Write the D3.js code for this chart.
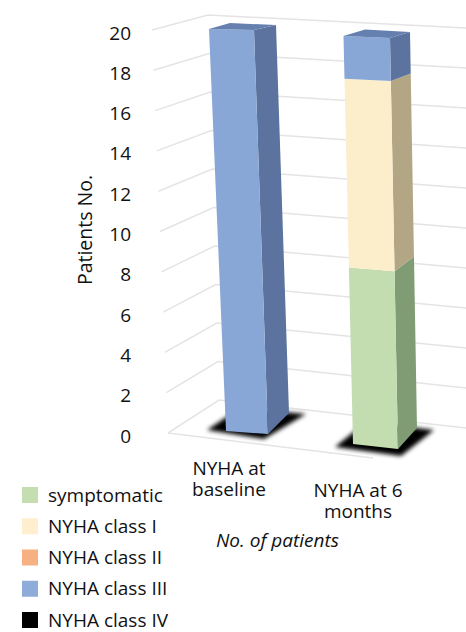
<!DOCTYPE html>
<html>
<head>
<meta charset="utf-8">
<script src="https://cdn.jsdelivr.net/npm/d3@7"></script>
<style>
  html, body { margin: 0; padding: 0; background: #fff; }
  text { font-family: "Open Sans", sans-serif; fill: #111; }
</style>
</head>
<body>
<script>
// values
const categories = ["NYHA at baseline", "NYHA at 6 months"]
const symptomatic = [0, 9]
const classI = [0, 9]
const classII = [0, 0]
const classIII = [20, 2]
const classIV = [0, 0]
const seriesNames = ["symptomatic", "NYHA class I", "NYHA class II", "NYHA class III", "NYHA class IV"]
const tickValues = [0, 2, 4, 6, 8, 10, 12, 14, 16, 18, 20]

const width = 466, height = 632
const colors = {
    "symptomatic": {front: "#c3dcb0", side: "#809c74", top: "#809c74", key: "#c4deb2"},
    "NYHA class I": {front: "#fdeecb", side: "#b2a685", top: "#b2a685", key: "#ffefcf"},
    "NYHA class II": {front: "#f6b082", side: "#a87a5a", top: "#a87a5a", key: "#f6b082"},
    "NYHA class III": {front: "#88a6d6", side: "#5b739e", top: "#6580ae", key: "#8fabd9"},
    "NYHA class IV": {front: "#000", side: "#000", top: "#000", key: "#000"}
}

const svg = d3.select("body").append("svg")
    .attr("width", width)
    .attr("height", height)
    .style("display", "block")

svg.append("defs").append("filter")
    .attr("id", "soft")
    .attr("x", "-20%").attr("y", "-50%").attr("width", "140%").attr("height", "200%")
    .append("feGaussianBlur").attr("stdDeviation", 2)

// axis used for the labels
const yAxisScale = d3.scaleLinear().domain([0, 20]).range([436, 33])

// walls of the 3d box, one scale per edge
const wallLeftX = d3.scaleLinear().domain([0, 20]).range([168, 152])
const wallLeftY = d3.scaleLinear().domain([0, 20]).range([433, 30])
const wallBackX = d3.scaleLinear().domain([0, 20]).range([219, 208])
const wallBackY = d3.scaleLinear().domain([0, 20]).range([400, 15])
const wallRightY = d3.scaleLinear().domain([0, 20]).range([428, 28])

const grid = svg.append("g")
    .attr("fill", "none")
    .attr("stroke", "#e4e4e4")
    .attr("stroke-width", 1.5)

tickValues.forEach(v => {
    grid.append("path").attr("d", d3.line()([
        [wallLeftX(v), wallLeftY(v)],
        [wallBackX(v), wallBackY(v)],
        [width, wallRightY(v)]
    ]))
})
// front edge of the floor
grid.append("path").attr("d", d3.line()([[wallLeftX(0), wallLeftY(0)], [373, 458]]))

// screen position of the bar edges: [base, top] for each corner
const barEdges = [
    {
        frontLeft: [[226, 431], [209, 29]],
        frontRight: [[268, 434], [254, 30]],
        backRight: [[289, 413], [276, 25]],
        backLeft: [[247, 410], [230, 23]],
        shadow: [[207, 430], [240, 408], [306, 414], [264, 439]]
    },
    {
        frontLeft: [[353, 444], [343.5, 36]],
        frontRight: [[398, 449], [390, 38]],
        backRight: [[417, 428], [410, 32]],
        backLeft: [[372, 424], [365, 29.5]],
        shadow: [[335, 447], [366, 422], [434, 430], [401, 456]]
    }
]

// perspective stretches the upper part of the bars slightly
const rise = d3.scalePow().exponent(1.05).domain([0, 20]).range([0, 1])
function edgePoint(edge, v){
    return [d3.interpolateNumber(edge[0][0], edge[1][0])(rise(v)),
            d3.interpolateNumber(edge[0][1], edge[1][1])(rise(v))]
}

const stack = d3.stack().keys(seriesNames)(categories.map((c, i) => ({
    "symptomatic": symptomatic[i],
    "NYHA class I": classI[i],
    "NYHA class II": classII[i],
    "NYHA class III": classIII[i],
    "NYHA class IV": classIV[i]
})))

const bars = svg.append("g")
categories.forEach((c, i) => {
    const e = barEdges[i]
    bars.append("polygon")
        .attr("points", e.shadow.join(" "))
        .attr("fill", "#000")
        .attr("filter", "url(#soft)")

    let total = 0
    stack.forEach(s => {
        const [v0, v1] = s[i]
        if(v1 == v0) return
        total = v1
        const col = colors[s.key]
        bars.append("polygon").attr("fill", col.side).attr("points", [
            edgePoint(e.frontRight, v0), edgePoint(e.backRight, v0),
            edgePoint(e.backRight, v1), edgePoint(e.frontRight, v1)].join(" "))
        bars.append("polygon").attr("fill", col.front).attr("points", [
            edgePoint(e.frontLeft, v0), edgePoint(e.frontRight, v0),
            edgePoint(e.frontRight, v1), edgePoint(e.frontLeft, v1)].join(" "))
    })
    const topKey = stack.filter(s => s[i][1] > s[i][0]).pop().key
    bars.append("polygon").attr("fill", colors[topKey].top).attr("points", [
        edgePoint(e.frontLeft, total), edgePoint(e.frontRight, total),
        edgePoint(e.backRight, total), edgePoint(e.backLeft, total)].join(" "))
})

// y axis labels
const yAxis = svg.append("g")
    .attr("transform", "translate(131,0)")
    .call(d3.axisLeft(yAxisScale).tickValues(tickValues).tickSize(0).tickPadding(0))
yAxis.select(".domain").remove()
yAxis.selectAll("text").attr("font-size", 19).attr("fill", "#111")
    .style("font-family", '"Open Sans", sans-serif')

svg.append("text")
    .attr("transform", "translate(92,230) rotate(-90)")
    .attr("text-anchor", "middle")
    .attr("font-size", 19.5)
    .text("Patients No.")

// category labels, wrapped by hand as in the picture
const catLabels = [["NYHA at", "baseline"], ["NYHA at 6", "months"]]
const catX = d3.scalePoint().domain(categories).range([229, 358])
const catY = [[475, 496], [497, 518]]
categories.forEach((c, i) => {
    const t = svg.append("text")
        .attr("text-anchor", "middle")
        .attr("font-size", 19)
    catLabels[i].forEach((line, j) => {
        t.append("tspan")
            .attr("x", catX(c))
            .attr("y", catY[i][j])
            .text(line)
    })
})

svg.append("text")
    .attr("x", 216)
    .attr("y", 547)
    .attr("font-size", 19)
    .attr("font-style", "italic")
    .text("No. of patients")

// legend
const legendY = d3.scalePoint().domain(seriesNames).range([495, 620])
const legend = svg.append("g").selectAll("g")
    .data(seriesNames)
    .join("g")
    .attr("transform", d => `translate(22,${legendY(d)})`)
legend.append("rect")
    .attr("y", -8)
    .attr("width", 16)
    .attr("height", 16)
    .attr("fill", d => colors[d].key)
legend.append("text")
    .attr("x", 26)
    .attr("y", 6.5)
    .attr("font-size", 19)
    .text(d => d)
</script>
</body>
</html>
